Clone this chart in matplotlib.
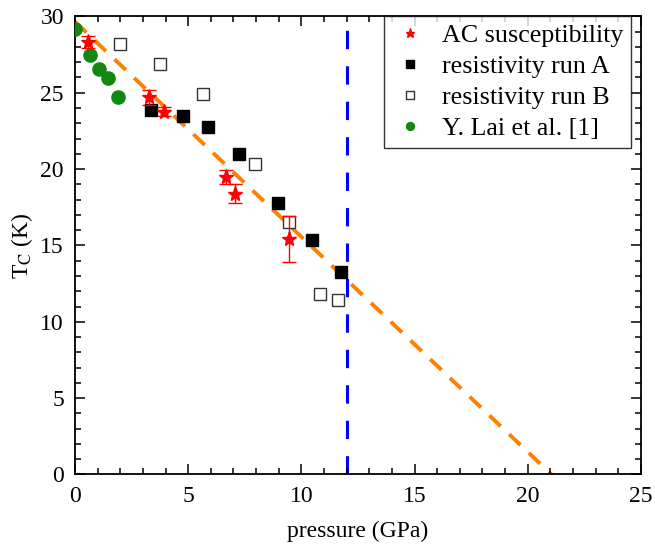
import numpy as np
import matplotlib
matplotlib.use("Agg")
import matplotlib.pyplot as plt

plt.rcParams["font.family"] = "Liberation Serif"
plt.rcParams["mathtext.fontset"] = "stix"

# AC susceptibility (with error bars)
ac_p = [0.56, 3.26, 3.95, 6.66, 7.05, 9.44]
ac_tc = [28.3, 24.7, 23.76, 19.5, 18.4, 15.4]
ac_err = [0.4, 0.5, 0.3, 0.45, 0.6, 1.5]

# resistivity run A
ra_p = [3.37, 4.75, 5.87, 7.24, 8.96, 10.46, 11.75]
ra_tc = [23.87, 23.5, 22.74, 20.97, 17.8, 15.36, 13.26]

# resistivity run B
rb_p = [1.98, 3.76, 5.65, 7.95, 9.44, 10.84, 11.63]
rb_tc = [28.2, 26.9, 24.9, 20.3, 16.55, 11.82, 11.4]

# Y. Lai et al. [1]
lai_p = [0.0, 0.66, 1.07, 1.48, 1.89]
lai_tc = [29.16, 27.5, 26.55, 25.95, 24.75]

# linear fit and critical pressure
fit_p = [0.0, 21.05]
fit_tc = [29.65, 0.0]
p_crit = 12.0

fig = plt.figure(figsize=(6.55, 5.46), dpi=100, facecolor="white")
ax = fig.add_axes([0.1145, 0.131, 0.864, 0.839])

ax.plot(fit_p, fit_tc, color="#ff7f00", lw=2.8, dashes=(4, 3.0), zorder=1)
ax.plot([p_crit, p_crit], [0, 30], color="#0000ff", lw=2.2,
        dashes=(6, 5.6), zorder=1)

ax.errorbar(ac_p, ac_tc, yerr=ac_err, fmt="none", ecolor="red",
            elinewidth=1, capsize=5, capthick=1, zorder=4)
h_ac, = ax.plot(ac_p, ac_tc, "*", color="red", ms=11, ls="none", zorder=5)
h_ra, = ax.plot(ra_p, ra_tc, "s", color="black", ms=8.5, ls="none", zorder=3)
h_rb, = ax.plot(rb_p, rb_tc, "s", mfc="white", mec="#333333", mew=1, ms=8.5,
                ls="none", zorder=3)
h_lai, = ax.plot(lai_p, lai_tc, "o", color="#118811", ms=9.5, ls="none",
                 zorder=3)

ax.set_xlim(0, 25)
ax.set_ylim(0, 30)
ax.set_xticks(np.arange(0, 26, 5))
ax.set_yticks(np.arange(0, 31, 5))
ax.set_xticks(np.arange(0, 26, 1), minor=True)
ax.set_yticks(np.arange(0, 31, 1), minor=True)
ax.tick_params(which="both", direction="in", top=True, right=True,
               labelsize=17, width=1.1)
ax.tick_params(which="major", length=7, pad=8)
ax.tick_params(which="minor", length=4)
for s in ax.spines.values():
    s.set_linewidth(1.3)

ax.set_xlabel("pressure (GPa)", fontsize=17, labelpad=10)
ax.set_ylabel(r"T$_\mathrm{C}$ (K)", fontsize=17, labelpad=4)

leg = ax.legend([h_ac, h_ra, h_rb, h_lai],
                ["AC susceptibility", "resistivity run A",
                 "resistivity run B", "Y. Lai et al. [1]"],
                loc="upper right", bbox_to_anchor=(0.982, 1.0),
                fontsize=18.7, markerscale=0.6,
                frameon=True, fancybox=False, edgecolor="black",
                borderaxespad=0, handlelength=1.4, handletextpad=0.5,
                labelspacing=0.3, borderpad=0.3)
leg.get_frame().set_linewidth(1.0)

fig.savefig("out.png", dpi=100)
